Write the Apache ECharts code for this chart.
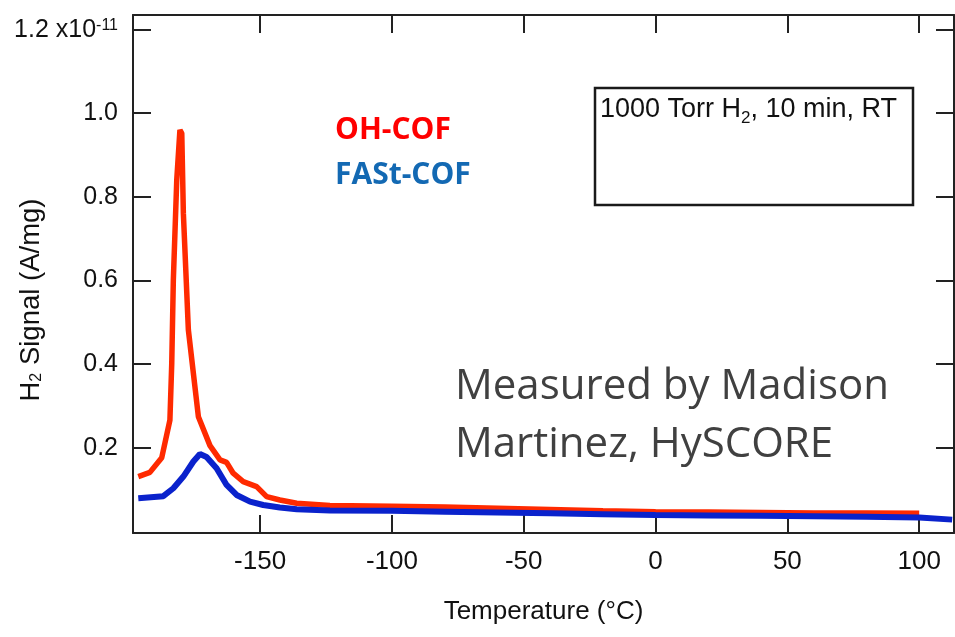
<!DOCTYPE html>
<html><head><meta charset="utf-8">
<script src="https://cdn.jsdelivr.net/npm/echarts@6/dist/echarts.min.js"></script>
<style>html,body{margin:0;padding:0;background:#fff}#c{width:955px;height:637px}</style>
</head><body><div id="c"></div>
<script>
// OH-COF (red)
const ohTemps = [-196.2, -191.8, -187.3, -184.2, -183.5, -182.9, -181.6, -180.4, -179.7, -179.1, -177.2, -173.4, -169.0, -165.2, -162.7, -160.2, -156.4, -151.3, -147.5, -142.5, -136.1, -123.5, -100, -80, -60, -40, -20, 0, 20, 40, 60, 80, 100];
const ohValues = [0.131, 0.141, 0.176, 0.266, 0.402, 0.601, 0.841, 0.960, 0.952, 0.761, 0.482, 0.274, 0.205, 0.171, 0.165, 0.139, 0.119, 0.107, 0.083, 0.075, 0.067, 0.062, 0.060, 0.058, 0.055, 0.052, 0.049, 0.047, 0.046, 0.045, 0.044, 0.044, 0.043];
// FASt-COF (blue)
const fastTemps = [-196.2, -186.7, -182.9, -179.1, -175.3, -172.8, -170.3, -166.5, -162.7, -158.9, -153.8, -148.8, -142.5, -136.1, -123.5, -100, -80, -60, -40, -20, 0, 20, 40, 60, 80, 100, 112.5];
const fastValues = [0.079, 0.084, 0.103, 0.131, 0.167, 0.185, 0.178, 0.151, 0.111, 0.087, 0.071, 0.063, 0.057, 0.053, 0.050, 0.049, 0.047, 0.045, 0.043, 0.041, 0.039, 0.038, 0.037, 0.036, 0.035, 0.033, 0.028];
const xTicks = [-150, -100, -50, 0, 50, 100];
const yTicks = [0.2, 0.4, 0.6, 0.8, 1.0, 1.2];
const seriesNames = ['OH-COF', 'FASt-COF'];

const zip = (a, b) => a.map((v, i) => [v, b[i]]);
const FONT = '"Liberation Sans", Arial, sans-serif';
const AXC = '#222';
const XMIN = -198.2, XMAX = 113.2, YMIN = -0.004, YMAX = 1.235;

const chart = echarts.init(document.getElementById('c'), null, {renderer: 'canvas'});
const baseX = {
  type: 'value', min: XMIN, max: XMAX,
  axisLine: {onZero: false, lineStyle: {color: AXC, width: 2}},
  axisTick: {inside: true, length: 18, lineStyle: {color: AXC, width: 2}, customValues: xTicks},
  splitLine: {show: false}
};
const baseY = {
  type: 'value', min: YMIN, max: YMAX,
  axisLine: {show: true, onZero: false, lineStyle: {color: AXC, width: 2}},
  axisTick: {show: true, inside: true, length: 18, lineStyle: {color: AXC, width: 2}, customValues: yTicks},
  splitLine: {show: false}
};
chart.setOption({
  animation: false,
  backgroundColor: '#fff',
  grid: {left: 133, right: 1, top: 15, bottom: 104, outerBoundsMode: 'none'},
  legend: {
    show: true, orient: 'vertical', left: 325, top: 107,
    icon: 'none', itemWidth: 0, itemHeight: 36, itemGap: 9,
    textStyle: {fontSize: 30, fontWeight: 'bold', fontFamily: '"Open Sans", sans-serif', lineHeight: 36},
    data: [
      {name: seriesNames[0], textStyle: {color: '#ff0000'}},
      {name: seriesNames[1], textStyle: {color: '#1369b3'}}
    ]
  },
  xAxis: [
    Object.assign({}, baseX, {
      position: 'bottom',
      name: 'Temperature (°C)', nameLocation: 'middle', nameGap: 66, nameMoveOverlap: false,
      nameTextStyle: {fontSize: 26, color: '#111', fontFamily: FONT},
      axisLabel: {show: true, margin: 16, fontSize: 26, color: '#111', fontFamily: FONT, customValues: xTicks}
    }),
    Object.assign({}, baseX, {position: 'top', axisLabel: {show: false}})
  ],
  yAxis: [
    Object.assign({}, baseY, {
      position: 'left',
      name: '{t|H}{s|2}{t| Signal (A/mg)}', nameLocation: 'middle', nameGap: 88, nameRotate: 90, nameMoveOverlap: false,
      nameTextStyle: {
        fontSize: 27.5, color: '#111', fontFamily: FONT, padding: [0, 52, 0, 0],
        rich: {t: {fontSize: 27.5, fontFamily: FONT, color: '#111'}, s: {fontSize: 16, fontFamily: FONT, color: '#111', verticalAlign: 'bottom', padding: [9, 0, 0, 0]}}
      },
      axisLabel: {
        show: true, margin: 15, fontSize: 25, color: '#111', fontFamily: FONT, customValues: yTicks,
        formatter: v => Math.abs(v - 1.2) < 1e-6 ? '{a|1.2 x10}{s|-11}' : v.toFixed(1),
        rich: {a: {fontSize: 25, fontFamily: FONT, color: '#111'}, s: {fontSize: 16, fontFamily: FONT, color: '#111', verticalAlign: 'top'}}
      }
    }),
    Object.assign({}, baseY, {position: 'right', axisLabel: {show: false}})
  ],
  series: [
    {name: seriesNames[0], type: 'line', xAxisIndex: 0, yAxisIndex: 0, data: zip(ohTemps, ohValues),
     showSymbol: false, smooth: false, lineStyle: {color: '#ff2a00', width: 5.5}, itemStyle: {color: '#ff2a00'}, z: 2},
    {name: seriesNames[1], type: 'line', xAxisIndex: 0, yAxisIndex: 0, data: zip(fastTemps, fastValues),
     showSymbol: false, smooth: false, lineStyle: {color: '#0a22cc', width: 6}, itemStyle: {color: '#0a22cc'}, z: 3}
  ],
  graphic: [
    {type: 'rect', shape: {x: 595, y: 88, width: 318, height: 117}, style: {fill: '#fff', stroke: '#1a1a1a', lineWidth: 2.5}, z: 10},
    {type: 'text', x: 600, y: 110, z: 11, style: {
      text: '{a|1000 Torr H}{s|2}{a|, 10 min, RT}', verticalAlign: 'middle',
      rich: {a: {fontSize: 27, fontFamily: FONT, fill: '#111'}, s: {fontSize: 17, fontFamily: FONT, fill: '#111', verticalAlign: 'bottom', padding: [16, 0, 0, 0]}}
    }},
    {type: 'text', x: 455, y: 358, z: 11, style: {
      text: 'Measured by Madison\nMartinez, HySCORE', fontSize: 42, lineHeight: 58,
      fontFamily: '"Open Sans", sans-serif', fill: '#404040'
    }}
  ]
});
</script></body></html>
